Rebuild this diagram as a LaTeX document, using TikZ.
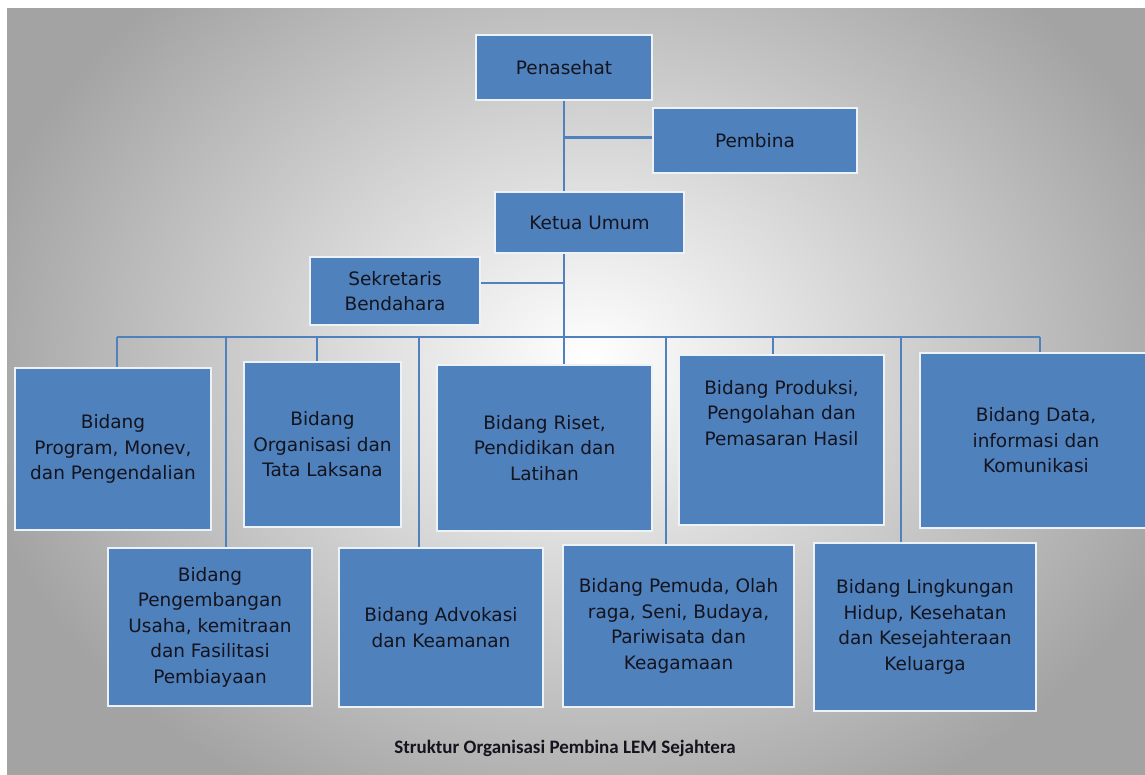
\documentclass[tikz,border=0pt]{standalone}
\usepackage{fontspec}
\setmainfont{DejaVu Sans}
\newfontfamily\titlefont{Carlito}
\definecolor{boxblue}{HTML}{4F81BD}
\definecolor{lineblue}{HTML}{4F81BD}
\definecolor{txtcol}{HTML}{14141E}
\begin{document}
\begin{tikzpicture}[x=1pt,y=-1pt,
  orgbox/.style={draw=white!90!boxblue, line width=1.3pt, fill=boxblue, inner sep=0pt,
    align=center, text=txtcol, font=\fontsize{18.5}{25.5}\selectfont},
  boxtext/.style={align=center, text=txtcol, font=\fontsize{18.5}{25.5}\selectfont},
  link/.style={draw=lineblue, line width=2.4pt}]
\useasboundingbox (0,0) rectangle (1145,775);
% background
\fill[white] (0,0) rectangle (1145,775);
\begin{scope}
  \clip (7,9) rectangle (1145,775);
  \shade[inner color=white, outer color=black!36] (-35,-140) rectangle (1215,860);
\end{scope}
% boxes
\node[orgbox, minimum width=176pt, minimum height=65pt] (pen) at (564,67.5) {Penasehat};
\node[orgbox, minimum width=204pt, minimum height=65pt] (pemb) at (755,140.5) {Pembina};
\node[orgbox, minimum width=189pt, minimum height=61pt] (ketua) at (589.5,222.5) {Ketua Umum};
\node[orgbox, minimum width=170pt, minimum height=68pt] (sek) at (395,291) {Sekretaris\\Bendahara};
\node[orgbox, minimum width=196pt, minimum height=162pt] (A) at (113,449) {Bidang\\Program, Monev,\\dan Pengendalian};
\node[orgbox, minimum width=157pt, minimum height=165pt] (B) at (322.5,444.5) {Bidang\\Organisasi dan\\Tata Laksana};
\node[orgbox, minimum width=215pt, minimum height=166pt] (C) at (544.5,448) {Bidang Riset,\\Pendidikan dan\\Latihan};
\node[orgbox, minimum width=205pt, minimum height=170pt,
  label={[boxtext, yshift=27pt]center:{Bidang Produksi,\\Pengolahan dan\\Pemasaran Hasil}}] (D) at (781.5,440) {};
\node[orgbox, minimum width=232pt, minimum height=175pt] (E) at (1036,440.5) {Bidang Data,\\informasi dan\\Komunikasi};
\node[orgbox, minimum width=204pt, minimum height=158pt] (F) at (210,627) {Bidang\\Pengembangan\\Usaha, kemitraan\\dan Fasilitasi\\Pembiayaan};
\node[orgbox, minimum width=204pt, minimum height=159pt] (G) at (441,627.5) {Bidang Advokasi\\dan Keamanan};
\node[orgbox, minimum width=231pt, minimum height=162pt] (H) at (678.5,626) {Bidang Pemuda, Olah\\raga, Seni, Budaya,\\Pariwisata dan\\Keagamaan};
\node[orgbox, minimum width=222pt, minimum height=168pt] (I) at (925,627) {Bidang Lingkungan\\Hidup, Kesehatan\\dan Kesejahteraan\\Keluarga};
% title
\node[font=\titlefont\bfseries\fontsize{19}{23}\selectfont, text=txtcol] (title) at (565,748) {Struktur Organisasi Pembina LEM Sejahtera};
% connectors
\draw[link] (pen.south) -- (pen.south |- ketua.north);
\draw[link] ([yshift=3pt]pen.south |- pemb.west) -- ([yshift=3pt]pemb.west);
\draw[link] (pen.south |- ketua.south) -- (pen.south |- C.north);
\draw[link] ([yshift=8pt]sek.east) -- ([yshift=8pt]sek.east -| pen.south);
\coordinate (tA) at (117,337);
\coordinate (tF) at (226,337);
\coordinate (tB) at (317,337);
\coordinate (tG) at (419,337);
\coordinate (tH) at (666,337);
\coordinate (tD) at (773,337);
\coordinate (tI) at (901,337);
\coordinate (tE) at (1040,337);
\draw[link] (tA) -- (tE);
\draw[link] (tA) -- (tA |- A.north);
\draw[link] (tF) -- (tF |- F.north);
\draw[link] (tB) -- (tB |- B.north);
\draw[link] (tG) -- (tG |- G.north);
\draw[link] (tH) -- (tH |- H.north);
\draw[link] (tD) -- (tD |- D.north);
\draw[link] (tI) -- (tI |- I.north);
\draw[link] (tE) -- (tE |- E.north);
\end{tikzpicture}
\end{document}
